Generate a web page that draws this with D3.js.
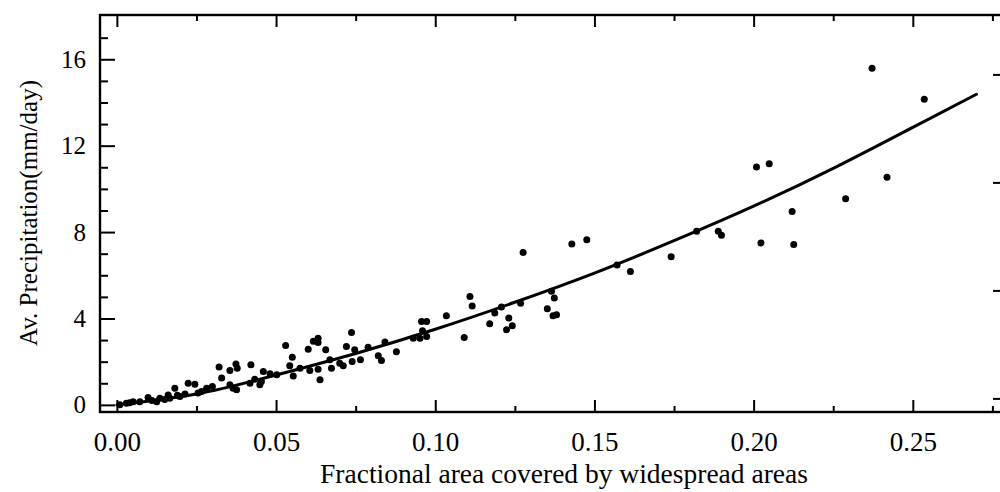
<!DOCTYPE html>
<html>
<head>
<meta charset="utf-8">
<script src="https://cdn.jsdelivr.net/npm/d3@7"></script>
<style>
  html, body { margin: 0; padding: 0; background: #fff; }
  svg { display: block; }
  text { font-family: "Liberation Serif", "Times New Roman", serif; fill: #000; }
</style>
</head>
<body>
<svg id="chart" width="1000" height="492"></svg>
<script>
// Observed fractional area (x) and average precipitation in mm/day (y)
const fracArea = [
  0.0009, 0.0030, 0.0040, 0.0051, 0.0072, 0.0098, 0.0110, 0.0125, 0.0135, 0.0150,
  0.0161, 0.0166, 0.0182, 0.0190, 0.0198, 0.0214, 0.0224, 0.0245, 0.0255, 0.0266,
  0.0282, 0.0300, 0.0321, 0.0329, 0.0355, 0.0355, 0.0365, 0.0376, 0.0374, 0.0378,
  0.0418, 0.0421, 0.0433, 0.0449, 0.0454, 0.0460, 0.0481, 0.0502, 0.0530, 0.0543,
  0.0551, 0.0554, 0.0575, 0.0601, 0.0606, 0.0617, 0.0632, 0.0632, 0.0632, 0.0638,
  0.0656, 0.0669, 0.0674, 0.0700, 0.0711, 0.0721, 0.0737, 0.0739, 0.0747, 0.0765,
  0.0789, 0.0821, 0.0831, 0.0842, 0.0878, 0.0931, 0.0952, 0.0957, 0.0960, 0.0973,
  0.0973, 0.1035, 0.1091, 0.1109, 0.1116, 0.1171, 0.1187, 0.1208, 0.1224, 0.1231,
  0.1242, 0.1268, 0.1276, 0.1352, 0.1365, 0.1370, 0.1374, 0.1381, 0.1429, 0.1476,
  0.1571, 0.1613, 0.1741, 0.1821, 0.1889, 0.1899, 0.2009, 0.2023, 0.2049, 0.2121,
  0.2126, 0.2289, 0.2372, 0.2419, 0.2536
];
const avgPrecip = [
  0.00, 0.08, 0.10, 0.15, 0.15, 0.34, 0.20, 0.15, 0.31, 0.25,
  0.46, 0.31, 0.77, 0.45, 0.39, 0.50, 1.00, 0.96, 0.55, 0.62,
  0.77, 0.85, 1.75, 1.24, 1.59, 0.93, 0.77, 0.70, 1.89, 1.70,
  1.00, 1.86, 1.19, 0.93, 1.08, 1.55, 1.44, 1.39, 2.75, 1.81,
  2.21, 1.34, 1.70, 2.58, 1.59, 2.94, 3.09, 2.89, 1.65, 1.16,
  2.55, 2.09, 1.70, 1.93, 1.81, 2.70, 3.35, 2.01, 2.55, 2.09,
  2.67, 2.27, 2.05, 2.91, 2.46, 3.09, 3.09, 3.86, 3.43, 3.86,
  3.17, 4.13, 3.12, 5.02, 4.58, 3.76, 4.25, 4.53, 3.48, 4.02,
  3.66, 4.71, 7.06, 4.45, 5.26, 4.13, 4.95, 4.17, 7.45, 7.64,
  6.48, 6.18, 6.86, 8.04, 8.04, 7.85, 11.01, 7.50, 11.16, 8.95,
  7.42, 9.54, 15.58, 10.54, 14.15
];

// Fitted relation, sampled along the fractional area axis
const fitArea   = [0, 0.025, 0.05, 0.075, 0.10, 0.125, 0.15, 0.175, 0.20, 0.225, 0.25, 0.27];
const fitPrecip = [0, 0.50, 1.38, 2.38, 3.50, 4.75, 6.10, 7.60, 9.20, 10.95, 12.85, 14.38];

// Axis ticks
const xTickValues = [0, 0.05, 0.10, 0.15, 0.20, 0.25];
const xTickLabels = ["0.00", "0.05", "0.10", "0.15", "0.20", "0.25"];
const xMinorTicks = [0.025, 0.075, 0.125, 0.175, 0.225, 0.275];
const yTickValues = [0, 4, 8, 12, 16];
const yTickLabels = ["0", "4", "8", "12", "16"];
const yMinorTicks = [1, 2, 3, 5, 6, 7, 9, 10, 11, 13, 14, 15, 17];
const rightTickValues = [0, 5, 10, 15];

const frame = { left: 100, right: 1008, top: 15, bottom: 412 };

const svg = d3.select("#chart");

const x = d3.scaleLinear().domain([-0.0053, 0.2799]).range([frame.left, frame.right]);
const y = d3.scaleLinear().domain([-0.33, 18.05]).range([frame.bottom, frame.top]);
const yRight = d3.scaleLinear().domain([-0.63, 17.75]).range([frame.bottom, frame.top]);

// Frame
const g = svg.append("g");
g.append("rect")
  .attr("x", frame.left).attr("y", frame.top)
  .attr("width", frame.right - frame.left).attr("height", frame.bottom - frame.top)
  .attr("fill", "none").attr("stroke", "#000").attr("stroke-width", 2.4);

// Ticks drawn with d3 axes, pointing into the plot
function styleAxis(sel) {
  sel.select(".domain").remove();
  sel.selectAll(".tick line").attr("stroke", "#000").attr("stroke-width", 2);
}

// Bottom axis: major with labels, minor without
g.append("g").attr("transform", `translate(0,${frame.bottom})`)
  .call(d3.axisBottom(x).tickValues(xTickValues).tickSize(-12)
        .tickFormat((d, i) => xTickLabels[i]).tickPadding(20))
  .call(styleAxis)
  .call(s => s.selectAll(".tick text")
        .style("font-family", "'Liberation Serif', serif")
        .style("font-size", "27px").attr("fill", "#000"));
g.append("g").attr("transform", `translate(0,${frame.bottom})`)
  .call(d3.axisBottom(x).tickValues(xMinorTicks).tickSize(-6).tickFormat(""))
  .call(styleAxis);

// Top axis
g.append("g").attr("transform", `translate(0,${frame.top})`)
  .call(d3.axisTop(x).tickValues(xTickValues).tickSize(-12).tickFormat(""))
  .call(styleAxis);
g.append("g").attr("transform", `translate(0,${frame.top})`)
  .call(d3.axisTop(x).tickValues(xMinorTicks).tickSize(-6).tickFormat(""))
  .call(styleAxis);

// Left axis
g.append("g").attr("transform", `translate(${frame.left},0)`)
  .call(d3.axisLeft(y).tickValues(yTickValues).tickSize(-15)
        .tickFormat((d, i) => yTickLabels[i]).tickPadding(14))
  .call(styleAxis)
  .call(s => s.selectAll(".tick text")
        .style("font-family", "'Liberation Serif', serif")
        .style("font-size", "25px").attr("fill", "#000"));
g.append("g").attr("transform", `translate(${frame.left},0)`)
  .call(d3.axisLeft(y).tickValues(yMinorTicks).tickSize(-8).tickFormat(""))
  .call(styleAxis);

// Right axis
g.append("g").attr("transform", `translate(${frame.right},0)`)
  .call(d3.axisRight(yRight).tickValues(rightTickValues).tickSize(-15).tickFormat(""))
  .call(styleAxis);

// Fitted curve
const fitData = fitArea.map((a, i) => [a, fitPrecip[i]]);
g.append("path")
  .datum(fitData)
  .attr("fill", "none")
  .attr("stroke", "#000")
  .attr("stroke-width", 3)
  .attr("stroke-linecap", "round")
  .attr("d", d3.line().x(d => x(d[0])).y(d => y(d[1])).curve(d3.curveNatural));

// Observations
const obs = fracArea.map((a, i) => ({ a, p: avgPrecip[i] }));
g.append("g").selectAll("circle")
  .data(obs)
  .join("circle")
  .attr("cx", d => x(d.a))
  .attr("cy", d => y(d.p))
  .attr("r", 3.5)
  .attr("fill", "#000");

// Axis titles
svg.append("text")
  .attr("x", 564).attr("y", 483)
  .attr("text-anchor", "middle")
  .style("font-size", "27.5px")
  .text("Fractional area covered by widespread areas");

svg.append("text")
  .attr("transform", "translate(37,213) rotate(-90)")
  .attr("text-anchor", "middle")
  .style("font-size", "25px")
  .text("Av. Precipitation(mm/day)");
</script>
</body>
</html>
